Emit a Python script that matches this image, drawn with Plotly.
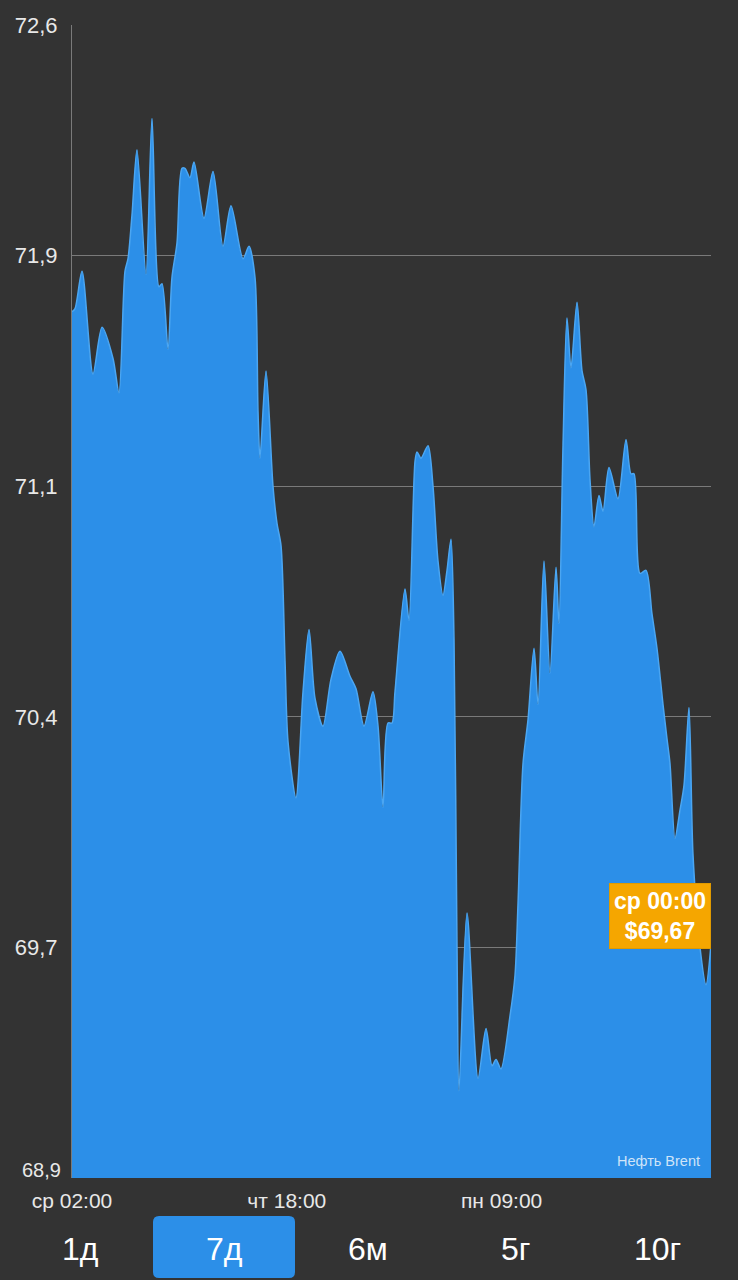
import plotly.graph_objects as go

# Trading hours since "ср 02:00"
hours = [0, 0.56, 1.86, 3.91, 5.59, 7.64, 8.75, 9.87, 10.43, 11.17, 12.10, 13.78, 14.90,
         16.20, 16.76, 17.88, 18.62, 19.55, 20.48, 21.04, 21.97, 22.72, 24.58, 26.26,
         28.12, 29.61, 31.85, 32.96, 34.08, 34.64, 35.01, 36.13, 37.43, 38.18, 38.92,
         39.67, 40.23, 41.71, 43.02, 44.14, 45.25, 46.74, 48.23, 49.91, 51.77, 52.89,
         54.38, 56.05, 56.99, 57.92, 58.85, 59.59, 60.15, 62.01, 62.76, 63.88, 64.25,
         64.99, 66.30, 67.23, 68.16, 69.09, 69.84, 70.58, 71.14, 71.70, 72.07, 73.56,
         75.61, 77.10, 78.22, 78.96, 79.89, 81.57, 82.50, 83.06, 83.99, 84.92, 86.04,
         86.79, 87.90, 89.02, 90.14, 90.69, 91.44, 92.18, 92.93, 94.05, 94.98, 95.72,
         96.47, 97.21, 98.14, 98.89, 100.00, 101.68, 103.17, 104.10, 104.66, 105.78,
         106.89, 108.01, 108.94, 110.06, 110.80, 111.36, 112.29, 113.22, 113.97, 114.90,
         115.64, 116.95, 118.07, 119.00]

price = [71.68, 71.69, 71.81, 71.48, 71.63, 71.53, 71.42, 71.81, 71.85, 71.99, 72.20, 71.80, 72.30,
         71.76, 71.77, 71.56, 71.79, 71.90, 72.14, 72.14, 72.11, 72.16, 71.98, 72.13,
         71.89, 72.02, 71.85, 71.89, 71.79, 71.36, 71.21, 71.49, 71.12, 71.00, 70.93,
         70.56, 70.30, 70.12, 70.46, 70.66, 70.44, 70.35, 70.50, 70.59, 70.51, 70.47,
         70.35, 70.46, 70.35, 70.09, 70.36, 70.36, 70.46, 70.79, 70.69, 71.20, 71.23,
         71.21, 71.25, 71.12, 70.88, 70.77, 70.85, 70.95, 70.63, 69.64, 69.18, 69.75,
         69.22, 69.38, 69.26, 69.28, 69.25, 69.42, 69.55, 69.78, 70.23, 70.37, 70.60,
         70.42, 70.88, 70.52, 70.86, 70.68, 71.25, 71.66, 71.50, 71.71, 71.49, 71.43,
         71.14, 70.99, 71.09, 71.04, 71.18, 71.08, 71.27, 71.16, 71.16, 70.84,
         70.85, 70.71, 70.60, 70.42, 70.31, 70.23, 69.99, 70.08, 70.16, 70.41,
         69.94, 69.64, 69.52, 69.65]

y_tickvals = [72.6, 71.86, 71.12, 70.38, 69.64]
y_ticktext = ["72,6", "71,9", "71,1", "70,4", "69,7"]
y_min_label = "68,9"
x_tickvals = [0, 40, 80]
x_ticktext = ["ср 02:00", "чт 18:00", "пн 09:00"]
periods = ["1д", "7д", "6м", "5г", "10г"]
selected_period = "7д"
last_label = "ср 00:00"
last_price = "$69,67"
instrument = "Нефть Brent"

BG = "#333333"
BLUE = "#2c8fe8"
FONT = "Liberation Sans, Arial, sans-serif"

fig = go.Figure()
fig.add_trace(go.Scatter(
    x=hours, y=price, mode="lines",
    line=dict(color="#4ba6f2", width=1.5, shape="spline", smoothing=0.8),
    fill="tozeroy", fillcolor=BLUE, hoverinfo="skip",
))

W, H = 738, 1280
PL, PR, PT, PB = 72, 711, 25, 1178          # plot box in page pixels
L, R, T, B = PL, W - PR, PT, H - PB
pw, ph = PR - PL, PB - PT


def px_x(px):
    return (px - PL) / pw


def px_y(py):
    return (PB - py) / ph


fig.update_layout(
    width=W, height=H,
    margin=dict(l=L, r=R, t=T, b=B),
    paper_bgcolor=BG, plot_bgcolor=BG,
    showlegend=False,
    font=dict(family=FONT, color="#e8e8e8"),
    xaxis=dict(range=[0, 119], tickvals=x_tickvals, ticktext=x_ticktext,
               showgrid=False, zeroline=False, showline=False, ticks="",
               tickfont=dict(size=21, color="#e8e8e8"), ticklabelstandoff=8,
               fixedrange=True),
    yaxis=dict(range=[68.9, 72.6], tickvals=y_tickvals, ticktext=y_ticktext,
               showgrid=True, gridcolor="#7a7a7a", gridwidth=1,
               zeroline=False, showline=True, linecolor="#7a7a7a", linewidth=1,
               layer="below traces", ticks="",
               tickfont=dict(size=22, color="#e8e8e8"), ticklabelstandoff=9,
               fixedrange=True),
)

# lowest y label, lifted slightly above the axis end as in the app
fig.add_annotation(x=px_x(63), y=px_y(1170), xref="paper", yref="paper",
                   text=y_min_label, showarrow=False, xanchor="right", yanchor="middle",
                   font=dict(size=20, color="#e8e8e8", family=FONT))

# Selected period button (rounded rect)
x0, x1 = px_x(153), px_x(295)
y0, y1 = px_y(1278), px_y(1216)
rx, ry = 6 / pw, 6 / ph
path = (f"M {x0+rx},{y0} L {x1-rx},{y0} Q {x1},{y0} {x1},{y0+ry} "
        f"L {x1},{y1-ry} Q {x1},{y1} {x1-rx},{y1} L {x0+rx},{y1} "
        f"Q {x0},{y1} {x0},{y1-ry} L {x0},{y0+ry} Q {x0},{y0} {x0+rx},{y0} Z")
fig.add_shape(type="path", path=path, xref="paper", yref="paper",
              fillcolor=BLUE, line=dict(width=0))

btn_centers = [80, 224, 368, 515, 657]
for lab, cx in zip(periods, btn_centers):
    fig.add_annotation(x=px_x(cx), y=px_y(1249), xref="paper", yref="paper",
                       text=lab, showarrow=False, xanchor="center", yanchor="middle",
                       font=dict(size=32, color="#ffffff", family=FONT))

fig.add_annotation(x=px_x(702), y=px_y(1161), xref="paper", yref="paper",
                   text=instrument, showarrow=False, xanchor="right", yanchor="middle",
                   font=dict(size=14.5, color="#cfe4f8", family=FONT))

fig.add_annotation(x=1.0, y=px_y(916), xref="paper", yref="paper",
                   text=f"<b>{last_label}</b><br><b>{last_price}</b>",
                   showarrow=False, xanchor="right", yanchor="middle",
                   align="center", bgcolor="#f5a600", bordercolor="#e09a00",
                   borderwidth=1, borderpad=4,
                   font=dict(size=23, color="#ffffff", family=FONT))

fig.write_html(
    "out.html",
    config=dict(displayModeBar=False, staticPlot=True),
    post_script="document.body.style.margin='0';document.body.style.background='#333333';",
)
